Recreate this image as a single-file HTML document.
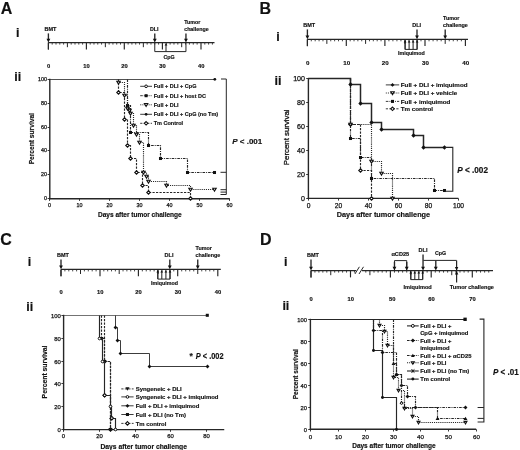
<!DOCTYPE html>
<html><head><meta charset="utf-8"><title>Figure</title>
<style>
html,body{margin:0;padding:0;background:#fff;}
svg{display:block;font-family:"Liberation Sans", sans-serif;will-change:transform;}
</style></head>
<body>
<svg width="520" height="450" viewBox="0 0 520 450">
<rect x="0" y="0" width="520" height="450" fill="#fff"/>
<text x="0.7" y="13.5" font-size="16" font-weight="bold" font-style="normal" text-anchor="start" fill="#111" stroke="#111" stroke-width="0.16" >A</text>
<text x="16.1" y="37" font-size="12.5" font-weight="bold" font-style="normal" text-anchor="start" fill="#111" stroke="#111" stroke-width="0.16" >i</text>
<text x="14.3" y="81.3" font-size="12.5" font-weight="bold" font-style="normal" text-anchor="start" fill="#111" stroke="#111" stroke-width="0.16" >ii</text>
<line x1="48.4" y1="42.6" x2="48.4" y2="49.4" stroke="#262626" stroke-width="1.15" stroke-linecap="butt"/>
<line x1="52.2" y1="42.6" x2="52.2" y2="44.6" stroke="#262626" stroke-width="0.85" stroke-linecap="butt"/>
<line x1="56" y1="42.6" x2="56" y2="44.6" stroke="#262626" stroke-width="0.85" stroke-linecap="butt"/>
<line x1="59.8" y1="42.6" x2="59.8" y2="44.6" stroke="#262626" stroke-width="0.85" stroke-linecap="butt"/>
<line x1="63.6" y1="42.6" x2="63.6" y2="44.6" stroke="#262626" stroke-width="0.85" stroke-linecap="butt"/>
<line x1="67.4" y1="42.6" x2="67.4" y2="47.2" stroke="#262626" stroke-width="1" stroke-linecap="butt"/>
<line x1="71.2" y1="42.6" x2="71.2" y2="44.6" stroke="#262626" stroke-width="0.85" stroke-linecap="butt"/>
<line x1="75" y1="42.6" x2="75" y2="44.6" stroke="#262626" stroke-width="0.85" stroke-linecap="butt"/>
<line x1="78.8" y1="42.6" x2="78.8" y2="44.6" stroke="#262626" stroke-width="0.85" stroke-linecap="butt"/>
<line x1="82.6" y1="42.6" x2="82.6" y2="44.6" stroke="#262626" stroke-width="0.85" stroke-linecap="butt"/>
<line x1="86.4" y1="42.6" x2="86.4" y2="49.4" stroke="#262626" stroke-width="1.15" stroke-linecap="butt"/>
<line x1="90.19" y1="42.6" x2="90.19" y2="44.6" stroke="#262626" stroke-width="0.85" stroke-linecap="butt"/>
<line x1="93.98" y1="42.6" x2="93.98" y2="44.6" stroke="#262626" stroke-width="0.85" stroke-linecap="butt"/>
<line x1="97.77" y1="42.6" x2="97.77" y2="44.6" stroke="#262626" stroke-width="0.85" stroke-linecap="butt"/>
<line x1="101.56" y1="42.6" x2="101.56" y2="44.6" stroke="#262626" stroke-width="0.85" stroke-linecap="butt"/>
<line x1="105.35" y1="42.6" x2="105.35" y2="47.2" stroke="#262626" stroke-width="1" stroke-linecap="butt"/>
<line x1="109.14" y1="42.6" x2="109.14" y2="44.6" stroke="#262626" stroke-width="0.85" stroke-linecap="butt"/>
<line x1="112.93" y1="42.6" x2="112.93" y2="44.6" stroke="#262626" stroke-width="0.85" stroke-linecap="butt"/>
<line x1="116.72" y1="42.6" x2="116.72" y2="44.6" stroke="#262626" stroke-width="0.85" stroke-linecap="butt"/>
<line x1="120.51" y1="42.6" x2="120.51" y2="44.6" stroke="#262626" stroke-width="0.85" stroke-linecap="butt"/>
<line x1="124.3" y1="42.6" x2="124.3" y2="49.4" stroke="#262626" stroke-width="1.15" stroke-linecap="butt"/>
<line x1="128.11" y1="42.6" x2="128.11" y2="44.6" stroke="#262626" stroke-width="0.85" stroke-linecap="butt"/>
<line x1="131.92" y1="42.6" x2="131.92" y2="44.6" stroke="#262626" stroke-width="0.85" stroke-linecap="butt"/>
<line x1="135.73" y1="42.6" x2="135.73" y2="44.6" stroke="#262626" stroke-width="0.85" stroke-linecap="butt"/>
<line x1="139.54" y1="42.6" x2="139.54" y2="44.6" stroke="#262626" stroke-width="0.85" stroke-linecap="butt"/>
<line x1="143.35" y1="42.6" x2="143.35" y2="47.2" stroke="#262626" stroke-width="1" stroke-linecap="butt"/>
<line x1="147.16" y1="42.6" x2="147.16" y2="44.6" stroke="#262626" stroke-width="0.85" stroke-linecap="butt"/>
<line x1="150.97" y1="42.6" x2="150.97" y2="44.6" stroke="#262626" stroke-width="0.85" stroke-linecap="butt"/>
<line x1="154.78" y1="42.6" x2="154.78" y2="44.6" stroke="#262626" stroke-width="0.85" stroke-linecap="butt"/>
<line x1="158.59" y1="42.6" x2="158.59" y2="44.6" stroke="#262626" stroke-width="0.85" stroke-linecap="butt"/>
<line x1="162.4" y1="42.6" x2="162.4" y2="49.4" stroke="#262626" stroke-width="1.15" stroke-linecap="butt"/>
<line x1="166.26" y1="42.6" x2="166.26" y2="44.6" stroke="#262626" stroke-width="0.85" stroke-linecap="butt"/>
<line x1="170.12" y1="42.6" x2="170.12" y2="44.6" stroke="#262626" stroke-width="0.85" stroke-linecap="butt"/>
<line x1="173.98" y1="42.6" x2="173.98" y2="44.6" stroke="#262626" stroke-width="0.85" stroke-linecap="butt"/>
<line x1="177.84" y1="42.6" x2="177.84" y2="44.6" stroke="#262626" stroke-width="0.85" stroke-linecap="butt"/>
<line x1="181.7" y1="42.6" x2="181.7" y2="47.2" stroke="#262626" stroke-width="1" stroke-linecap="butt"/>
<line x1="185.56" y1="42.6" x2="185.56" y2="44.6" stroke="#262626" stroke-width="0.85" stroke-linecap="butt"/>
<line x1="189.42" y1="42.6" x2="189.42" y2="44.6" stroke="#262626" stroke-width="0.85" stroke-linecap="butt"/>
<line x1="193.28" y1="42.6" x2="193.28" y2="44.6" stroke="#262626" stroke-width="0.85" stroke-linecap="butt"/>
<line x1="197.14" y1="42.6" x2="197.14" y2="44.6" stroke="#262626" stroke-width="0.85" stroke-linecap="butt"/>
<line x1="201" y1="42.6" x2="201" y2="49.4" stroke="#262626" stroke-width="1.15" stroke-linecap="butt"/>
<line x1="204.8" y1="42.6" x2="204.8" y2="44.6" stroke="#262626" stroke-width="0.85" stroke-linecap="butt"/>
<line x1="208.6" y1="42.6" x2="208.6" y2="44.6" stroke="#262626" stroke-width="0.85" stroke-linecap="butt"/>
<line x1="212.4" y1="42.6" x2="212.4" y2="44.6" stroke="#262626" stroke-width="0.85" stroke-linecap="butt"/>
<line x1="48.4" y1="42.6" x2="214.5" y2="42.6" stroke="#262626" stroke-width="1.25" stroke-linecap="butt"/>
<line x1="48.4" y1="33.4" x2="48.4" y2="39.3" stroke="#262626" stroke-width="1.35" stroke-linecap="butt"/>
<path d="M46.5,38.8 L50.3,38.8 L48.4,42.4 Z" fill="#111"/>
<line x1="48.4" y1="42.6" x2="48.4" y2="49.4" stroke="#262626" stroke-width="1.1" stroke-linecap="butt"/>
<line x1="154.78" y1="33.4" x2="154.78" y2="39.3" stroke="#262626" stroke-width="1.35" stroke-linecap="butt"/>
<path d="M152.88,38.8 L156.68,38.8 L154.78,42.4 Z" fill="#111"/>
<line x1="185.95" y1="33.4" x2="185.95" y2="39.3" stroke="#262626" stroke-width="1.35" stroke-linecap="butt"/>
<path d="M184.05,38.8 L187.85,38.8 L185.95,42.4 Z" fill="#111"/>
<text x="50.4" y="31" font-size="5.5" font-weight="bold" font-style="normal" text-anchor="middle" fill="#111" stroke="#111" stroke-width="0.16" >BMT</text>
<text x="154.18" y="31" font-size="5.3" font-weight="bold" font-style="normal" text-anchor="middle" fill="#111" stroke="#111" stroke-width="0.16" >DLI</text>
<text x="184.2" y="24.2" font-size="5.3" font-weight="bold" font-style="normal" text-anchor="start" fill="#111" stroke="#111" stroke-width="0.16" >Tumor</text>
<text x="184.2" y="31" font-size="5.3" font-weight="bold" font-style="normal" text-anchor="start" fill="#111" stroke="#111" stroke-width="0.16" >challenge</text>
<polyline points="154.78,42.6 154.78,51.6 185.95,51.6 185.95,42.6" fill="none" stroke="#262626" stroke-width="1"/>
<line x1="166" y1="51.6" x2="166" y2="45.1" stroke="#262626" stroke-width="1.05" stroke-linecap="butt"/>
<path d="M164.65,45.6 L167.35,45.6 L166,43 Z" fill="#111"/>
<text x="163.4" y="59.2" font-size="5.3" font-weight="bold" font-style="normal" text-anchor="start" fill="#111" stroke="#111" stroke-width="0.16" >CpG</text>
<text x="48.6" y="68" font-size="5.8" font-weight="bold" font-style="normal" text-anchor="middle" fill="#111" stroke="#111" stroke-width="0.16" >0</text>
<text x="86.6" y="68" font-size="5.8" font-weight="bold" font-style="normal" text-anchor="middle" fill="#111" stroke="#111" stroke-width="0.16" >10</text>
<text x="124.5" y="68" font-size="5.8" font-weight="bold" font-style="normal" text-anchor="middle" fill="#111" stroke="#111" stroke-width="0.16" >20</text>
<text x="162.6" y="68" font-size="5.8" font-weight="bold" font-style="normal" text-anchor="middle" fill="#111" stroke="#111" stroke-width="0.16" >30</text>
<text x="201.2" y="68" font-size="5.8" font-weight="bold" font-style="normal" text-anchor="middle" fill="#111" stroke="#111" stroke-width="0.16" >40</text>
<line x1="49.8" y1="78.8" x2="49.8" y2="199.3" stroke="#262626" stroke-width="1.4" stroke-linecap="butt"/>
<line x1="47.6" y1="198.5" x2="49.8" y2="198.5" stroke="#262626" stroke-width="0.9" stroke-linecap="butt"/>
<text x="47" y="200.44" font-size="5.4" font-weight="normal" font-style="normal" text-anchor="end" fill="#111" stroke="#111" stroke-width="0.25" >0</text>
<line x1="47.6" y1="174.5" x2="49.8" y2="174.5" stroke="#262626" stroke-width="0.9" stroke-linecap="butt"/>
<text x="47" y="176.44" font-size="5.4" font-weight="normal" font-style="normal" text-anchor="end" fill="#111" stroke="#111" stroke-width="0.25" >20</text>
<line x1="47.6" y1="150.5" x2="49.8" y2="150.5" stroke="#262626" stroke-width="0.9" stroke-linecap="butt"/>
<text x="47" y="152.44" font-size="5.4" font-weight="normal" font-style="normal" text-anchor="end" fill="#111" stroke="#111" stroke-width="0.25" >40</text>
<line x1="47.6" y1="127.5" x2="49.8" y2="127.5" stroke="#262626" stroke-width="0.9" stroke-linecap="butt"/>
<text x="47" y="129.44" font-size="5.4" font-weight="normal" font-style="normal" text-anchor="end" fill="#111" stroke="#111" stroke-width="0.25" >60</text>
<line x1="47.6" y1="103.5" x2="49.8" y2="103.5" stroke="#262626" stroke-width="0.9" stroke-linecap="butt"/>
<text x="47" y="105.44" font-size="5.4" font-weight="normal" font-style="normal" text-anchor="end" fill="#111" stroke="#111" stroke-width="0.25" >80</text>
<line x1="47.6" y1="79.5" x2="49.8" y2="79.5" stroke="#262626" stroke-width="0.9" stroke-linecap="butt"/>
<text x="47" y="81.44" font-size="5.4" font-weight="normal" font-style="normal" text-anchor="end" fill="#111" stroke="#111" stroke-width="0.25" >100</text>
<line x1="49.2" y1="198.7" x2="229.8" y2="198.7" stroke="#262626" stroke-width="1.4" stroke-linecap="butt"/>
<line x1="49.5" y1="198.7" x2="49.5" y2="200.9" stroke="#262626" stroke-width="0.9" stroke-linecap="butt"/>
<text x="49.5" y="207.1" font-size="5.4" font-weight="normal" font-style="normal" text-anchor="middle" fill="#111" stroke="#111" stroke-width="0.25" >0</text>
<line x1="79.5" y1="198.7" x2="79.5" y2="200.9" stroke="#262626" stroke-width="0.9" stroke-linecap="butt"/>
<text x="79.5" y="207.1" font-size="5.4" font-weight="normal" font-style="normal" text-anchor="middle" fill="#111" stroke="#111" stroke-width="0.25" >10</text>
<line x1="109.5" y1="198.7" x2="109.5" y2="200.9" stroke="#262626" stroke-width="0.9" stroke-linecap="butt"/>
<text x="109.5" y="207.1" font-size="5.4" font-weight="normal" font-style="normal" text-anchor="middle" fill="#111" stroke="#111" stroke-width="0.25" >20</text>
<line x1="139.5" y1="198.7" x2="139.5" y2="200.9" stroke="#262626" stroke-width="0.9" stroke-linecap="butt"/>
<text x="139.5" y="207.1" font-size="5.4" font-weight="normal" font-style="normal" text-anchor="middle" fill="#111" stroke="#111" stroke-width="0.25" >30</text>
<line x1="169.5" y1="198.7" x2="169.5" y2="200.9" stroke="#262626" stroke-width="0.9" stroke-linecap="butt"/>
<text x="169.5" y="207.1" font-size="5.4" font-weight="normal" font-style="normal" text-anchor="middle" fill="#111" stroke="#111" stroke-width="0.25" >40</text>
<line x1="199.5" y1="198.7" x2="199.5" y2="200.9" stroke="#262626" stroke-width="0.9" stroke-linecap="butt"/>
<text x="199.5" y="207.1" font-size="5.4" font-weight="normal" font-style="normal" text-anchor="middle" fill="#111" stroke="#111" stroke-width="0.25" >50</text>
<line x1="229.5" y1="198.7" x2="229.5" y2="200.9" stroke="#262626" stroke-width="0.9" stroke-linecap="butt"/>
<text x="229.5" y="207.1" font-size="5.4" font-weight="normal" font-style="normal" text-anchor="middle" fill="#111" stroke="#111" stroke-width="0.25" >60</text>
<text x="0" y="0" font-size="6.65" font-weight="bold" text-anchor="middle" fill="#111" stroke="#111" stroke-width="0.16" transform="translate(33.79,138.7) rotate(-90)">Percent survival</text>
<text x="98" y="216.7" font-size="6.52" font-weight="bold" font-style="normal" text-anchor="start" fill="#111" stroke="#111" stroke-width="0.16" >Days after tumor challenge</text>
<polyline points="49.5,79.5 214.5,79.5" fill="none" stroke="#262626" stroke-width="0.8"/>
<circle cx="214.8" cy="79.3" r="1.41" fill="#111"/>
<polyline points="118.5,79.5 118.5,79.5 118.5,92.5 124.5,92.5 124.5,119.5 127.5,119.5 127.5,145.5 130.5,145.5 130.5,158.5 136.5,158.5 136.5,172.5 142.5,172.5 142.5,185.5 148.5,185.5 148.5,192.5 190.5,192.5 190.5,198.5" fill="none" stroke="#262626" stroke-width="1.15" stroke-dasharray="2.2,1.3"/>
<path d="M118.5,90.75 L120.25,92.5 L118.5,94.25 L116.75,92.5 Z" fill="#fff" stroke="#111" stroke-width="1.1"/>
<path d="M124.5,117.75 L126.25,119.5 L124.5,121.25 L122.75,119.5 Z" fill="#fff" stroke="#111" stroke-width="1.1"/>
<path d="M127.5,143.75 L129.25,145.5 L127.5,147.25 L125.75,145.5 Z" fill="#fff" stroke="#111" stroke-width="1.1"/>
<path d="M130.5,156.75 L132.25,158.5 L130.5,160.25 L128.75,158.5 Z" fill="#fff" stroke="#111" stroke-width="1.1"/>
<path d="M136.5,170.75 L138.25,172.5 L136.5,174.25 L134.75,172.5 Z" fill="#fff" stroke="#111" stroke-width="1.1"/>
<path d="M142.5,183.75 L144.25,185.5 L142.5,187.25 L140.75,185.5 Z" fill="#fff" stroke="#111" stroke-width="1.1"/>
<path d="M148.5,190.75 L150.25,192.5 L148.5,194.25 L146.75,192.5 Z" fill="#fff" stroke="#111" stroke-width="1.1"/>
<path d="M190.5,196.75 L192.25,198.5 L190.5,200.25 L188.75,198.5 Z" fill="#fff" stroke="#111" stroke-width="1.1"/>
<polyline points="127.5,79.5 127.5,79.5 127.5,105.5 130.5,105.5 130.5,132.5 148.5,132.5 148.5,145.5 160.5,145.5 160.5,158.5 187.5,158.5 187.5,172.5 214.5,172.5" fill="none" stroke="#262626" stroke-width="1.15" stroke-dasharray="2.6,1.0,1.0,1.0"/>
<rect x="125.98" y="103.98" width="3.04" height="3.04" fill="#111"/>
<rect x="128.98" y="130.98" width="3.04" height="3.04" fill="#111"/>
<rect x="146.98" y="143.98" width="3.04" height="3.04" fill="#111"/>
<rect x="158.98" y="156.98" width="3.04" height="3.04" fill="#111"/>
<rect x="185.98" y="170.98" width="3.04" height="3.04" fill="#111"/>
<rect x="212.98" y="170.98" width="3.04" height="3.04" fill="#111"/>
<polyline points="118.5,79.5 118.5,79.5 118.5,82.5 124.5,82.5 124.5,95.5 127.5,95.5 127.5,108.5 129.5,108.5 129.5,110.5 130.5,110.5 130.5,113.5 133.5,113.5 133.5,125.5 136.5,125.5 136.5,134.5 139.5,134.5 139.5,142.5 143.5,142.5 143.5,172.5 146.5,172.5 146.5,176.5 148.5,176.5 148.5,181.5 166.5,181.5 166.5,185.5 190.5,185.5 190.5,189.5 214.5,189.5" fill="none" stroke="#262626" stroke-width="1.15" stroke-dasharray="1.1,1.0"/>
<path d="M116.78,81.21 L120.22,81.21 L118.5,84.13 Z" fill="#fff" stroke="#111" stroke-width="1.1"/>
<path d="M122.78,94.21 L126.22,94.21 L124.5,97.13 Z" fill="#fff" stroke="#111" stroke-width="1.1"/>
<path d="M125.78,107.21 L129.22,107.21 L127.5,110.13 Z" fill="#fff" stroke="#111" stroke-width="1.1"/>
<path d="M127.78,109.21 L131.22,109.21 L129.5,112.13 Z" fill="#fff" stroke="#111" stroke-width="1.1"/>
<path d="M128.78,112.21 L132.22,112.21 L130.5,115.13 Z" fill="#fff" stroke="#111" stroke-width="1.1"/>
<path d="M131.78,124.21 L135.22,124.21 L133.5,127.13 Z" fill="#fff" stroke="#111" stroke-width="1.1"/>
<path d="M134.78,133.21 L138.22,133.21 L136.5,136.13 Z" fill="#fff" stroke="#111" stroke-width="1.1"/>
<path d="M137.78,141.21 L141.22,141.21 L139.5,144.13 Z" fill="#fff" stroke="#111" stroke-width="1.1"/>
<path d="M141.78,171.21 L145.22,171.21 L143.5,174.13 Z" fill="#fff" stroke="#111" stroke-width="1.1"/>
<path d="M144.78,175.21 L148.22,175.21 L146.5,178.13 Z" fill="#fff" stroke="#111" stroke-width="1.1"/>
<path d="M146.78,180.21 L150.22,180.21 L148.5,183.13 Z" fill="#fff" stroke="#111" stroke-width="1.1"/>
<path d="M164.78,184.21 L168.22,184.21 L166.5,187.13 Z" fill="#fff" stroke="#111" stroke-width="1.1"/>
<path d="M188.78,188.21 L192.22,188.21 L190.5,191.13 Z" fill="#fff" stroke="#111" stroke-width="1.1"/>
<path d="M212.78,188.21 L216.22,188.21 L214.5,191.13 Z" fill="#fff" stroke="#111" stroke-width="1.1"/>
<polyline points="221,79 226.3,79 226.3,194.5 220.5,194.5" fill="none" stroke="#262626" stroke-width="1"/>
<line x1="220.5" y1="172.3" x2="226.3" y2="172.3" stroke="#262626" stroke-width="1" stroke-linecap="butt"/>
<line x1="220.5" y1="189.7" x2="226.3" y2="189.7" stroke="#262626" stroke-width="1" stroke-linecap="butt"/>
<line x1="220.5" y1="192.1" x2="226.3" y2="192.1" stroke="#262626" stroke-width="1" stroke-linecap="butt"/>
<text x="0" y="0" font-size="8" fill="#111" stroke="#111" stroke-width="0.16" transform="translate(232.2,144.38) scale(1.0,1)"><tspan font-weight="bold" font-style="italic">P</tspan><tspan font-weight="bold"> &lt; .001</tspan></text>
<line x1="140.2" y1="86.3" x2="152" y2="86.3" stroke="#262626" stroke-width="0.9" stroke-linecap="butt"/>
<circle cx="146.1" cy="86.3" r="1.33" fill="#fff" stroke="#111" stroke-width="1.0"/>
<text x="153.7" y="88.28" font-size="5.5" font-weight="bold" font-style="normal" text-anchor="start" fill="#111" stroke="#111" stroke-width="0.16" >Full + DLI + CpG</text>
<line x1="140.2" y1="95.7" x2="152" y2="95.7" stroke="#262626" stroke-width="0.9" stroke-linecap="butt" stroke-dasharray="2.6,1.0,1.0,1.0"/>
<rect x="144.58" y="94.18" width="3.04" height="3.04" fill="#111"/>
<text x="153.7" y="97.68" font-size="5.5" font-weight="bold" font-style="normal" text-anchor="start" fill="#111" stroke="#111" stroke-width="0.16" >Full + DLI + host DC</text>
<line x1="140.2" y1="104.8" x2="152" y2="104.8" stroke="#262626" stroke-width="0.9" stroke-linecap="butt" stroke-dasharray="1.1,1.0"/>
<path d="M144.38,103.51 L147.82,103.51 L146.1,106.43 Z" fill="#fff" stroke="#111" stroke-width="1.1"/>
<text x="153.7" y="106.78" font-size="5.5" font-weight="bold" font-style="normal" text-anchor="start" fill="#111" stroke="#111" stroke-width="0.16" >Full + DLI</text>
<line x1="140.2" y1="114.3" x2="152" y2="114.3" stroke="#262626" stroke-width="0.9" stroke-linecap="butt"/>
<circle cx="146.1" cy="114.3" r="1.36" fill="#111"/>
<text x="153.7" y="116.28" font-size="5.5" font-weight="bold" font-style="normal" text-anchor="start" fill="#111" stroke="#111" stroke-width="0.16" >Full + DLI + CpG (no Tm)</text>
<line x1="140.2" y1="123.3" x2="152" y2="123.3" stroke="#262626" stroke-width="0.9" stroke-linecap="butt" stroke-dasharray="2.2,1.3"/>
<path d="M146.1,121.55 L147.85,123.3 L146.1,125.05 L144.34,123.3 Z" fill="#fff" stroke="#111" stroke-width="1.1"/>
<text x="153.7" y="125.28" font-size="5.5" font-weight="bold" font-style="normal" text-anchor="start" fill="#111" stroke="#111" stroke-width="0.16" >Tm Control</text>
<text x="259.6" y="13.5" font-size="16" font-weight="bold" font-style="normal" text-anchor="start" fill="#111" stroke="#111" stroke-width="0.16" >B</text>
<text x="276.3" y="40.5" font-size="12.5" font-weight="bold" font-style="normal" text-anchor="start" fill="#111" stroke="#111" stroke-width="0.16" >i</text>
<text x="274.6" y="85" font-size="12.5" font-weight="bold" font-style="normal" text-anchor="start" fill="#111" stroke="#111" stroke-width="0.16" >ii</text>
<line x1="307.4" y1="39.3" x2="307.4" y2="46.1" stroke="#262626" stroke-width="1.15" stroke-linecap="butt"/>
<line x1="311.29" y1="39.3" x2="311.29" y2="41.3" stroke="#262626" stroke-width="0.85" stroke-linecap="butt"/>
<line x1="315.18" y1="39.3" x2="315.18" y2="41.3" stroke="#262626" stroke-width="0.85" stroke-linecap="butt"/>
<line x1="319.07" y1="39.3" x2="319.07" y2="41.3" stroke="#262626" stroke-width="0.85" stroke-linecap="butt"/>
<line x1="322.96" y1="39.3" x2="322.96" y2="41.3" stroke="#262626" stroke-width="0.85" stroke-linecap="butt"/>
<line x1="326.85" y1="39.3" x2="326.85" y2="43.9" stroke="#262626" stroke-width="1" stroke-linecap="butt"/>
<line x1="330.74" y1="39.3" x2="330.74" y2="41.3" stroke="#262626" stroke-width="0.85" stroke-linecap="butt"/>
<line x1="334.63" y1="39.3" x2="334.63" y2="41.3" stroke="#262626" stroke-width="0.85" stroke-linecap="butt"/>
<line x1="338.52" y1="39.3" x2="338.52" y2="41.3" stroke="#262626" stroke-width="0.85" stroke-linecap="butt"/>
<line x1="342.41" y1="39.3" x2="342.41" y2="41.3" stroke="#262626" stroke-width="0.85" stroke-linecap="butt"/>
<line x1="346.3" y1="39.3" x2="346.3" y2="46.1" stroke="#262626" stroke-width="1.15" stroke-linecap="butt"/>
<line x1="350.16" y1="39.3" x2="350.16" y2="41.3" stroke="#262626" stroke-width="0.85" stroke-linecap="butt"/>
<line x1="354.02" y1="39.3" x2="354.02" y2="41.3" stroke="#262626" stroke-width="0.85" stroke-linecap="butt"/>
<line x1="357.88" y1="39.3" x2="357.88" y2="41.3" stroke="#262626" stroke-width="0.85" stroke-linecap="butt"/>
<line x1="361.74" y1="39.3" x2="361.74" y2="41.3" stroke="#262626" stroke-width="0.85" stroke-linecap="butt"/>
<line x1="365.6" y1="39.3" x2="365.6" y2="43.9" stroke="#262626" stroke-width="1" stroke-linecap="butt"/>
<line x1="369.46" y1="39.3" x2="369.46" y2="41.3" stroke="#262626" stroke-width="0.85" stroke-linecap="butt"/>
<line x1="373.32" y1="39.3" x2="373.32" y2="41.3" stroke="#262626" stroke-width="0.85" stroke-linecap="butt"/>
<line x1="377.18" y1="39.3" x2="377.18" y2="41.3" stroke="#262626" stroke-width="0.85" stroke-linecap="butt"/>
<line x1="381.04" y1="39.3" x2="381.04" y2="41.3" stroke="#262626" stroke-width="0.85" stroke-linecap="butt"/>
<line x1="384.9" y1="39.3" x2="384.9" y2="46.1" stroke="#262626" stroke-width="1.15" stroke-linecap="butt"/>
<line x1="388.91" y1="39.3" x2="388.91" y2="41.3" stroke="#262626" stroke-width="0.85" stroke-linecap="butt"/>
<line x1="392.92" y1="39.3" x2="392.92" y2="41.3" stroke="#262626" stroke-width="0.85" stroke-linecap="butt"/>
<line x1="396.93" y1="39.3" x2="396.93" y2="41.3" stroke="#262626" stroke-width="0.85" stroke-linecap="butt"/>
<line x1="400.94" y1="39.3" x2="400.94" y2="41.3" stroke="#262626" stroke-width="0.85" stroke-linecap="butt"/>
<line x1="404.95" y1="39.3" x2="404.95" y2="43.9" stroke="#262626" stroke-width="1" stroke-linecap="butt"/>
<line x1="408.96" y1="39.3" x2="408.96" y2="41.3" stroke="#262626" stroke-width="0.85" stroke-linecap="butt"/>
<line x1="412.97" y1="39.3" x2="412.97" y2="41.3" stroke="#262626" stroke-width="0.85" stroke-linecap="butt"/>
<line x1="416.98" y1="39.3" x2="416.98" y2="41.3" stroke="#262626" stroke-width="0.85" stroke-linecap="butt"/>
<line x1="420.99" y1="39.3" x2="420.99" y2="41.3" stroke="#262626" stroke-width="0.85" stroke-linecap="butt"/>
<line x1="425" y1="39.3" x2="425" y2="46.1" stroke="#262626" stroke-width="1.15" stroke-linecap="butt"/>
<line x1="429.04" y1="39.3" x2="429.04" y2="41.3" stroke="#262626" stroke-width="0.85" stroke-linecap="butt"/>
<line x1="433.08" y1="39.3" x2="433.08" y2="41.3" stroke="#262626" stroke-width="0.85" stroke-linecap="butt"/>
<line x1="437.12" y1="39.3" x2="437.12" y2="41.3" stroke="#262626" stroke-width="0.85" stroke-linecap="butt"/>
<line x1="441.16" y1="39.3" x2="441.16" y2="41.3" stroke="#262626" stroke-width="0.85" stroke-linecap="butt"/>
<line x1="445.2" y1="39.3" x2="445.2" y2="43.9" stroke="#262626" stroke-width="1" stroke-linecap="butt"/>
<line x1="449.24" y1="39.3" x2="449.24" y2="41.3" stroke="#262626" stroke-width="0.85" stroke-linecap="butt"/>
<line x1="453.28" y1="39.3" x2="453.28" y2="41.3" stroke="#262626" stroke-width="0.85" stroke-linecap="butt"/>
<line x1="457.32" y1="39.3" x2="457.32" y2="41.3" stroke="#262626" stroke-width="0.85" stroke-linecap="butt"/>
<line x1="461.36" y1="39.3" x2="461.36" y2="41.3" stroke="#262626" stroke-width="0.85" stroke-linecap="butt"/>
<line x1="465.4" y1="39.3" x2="465.4" y2="46.1" stroke="#262626" stroke-width="1.15" stroke-linecap="butt"/>
<line x1="307.4" y1="39.3" x2="468" y2="39.3" stroke="#262626" stroke-width="1.25" stroke-linecap="butt"/>
<line x1="307.4" y1="29.4" x2="307.4" y2="36.1" stroke="#262626" stroke-width="1.35" stroke-linecap="butt"/>
<path d="M305.5,35.6 L309.3,35.6 L307.4,39.2 Z" fill="#111"/>
<line x1="307.4" y1="39.4" x2="307.4" y2="46.2" stroke="#262626" stroke-width="1.1" stroke-linecap="butt"/>
<line x1="417" y1="29.4" x2="417" y2="36.1" stroke="#262626" stroke-width="1.35" stroke-linecap="butt"/>
<path d="M415.1,35.6 L418.9,35.6 L417,39.2 Z" fill="#111"/>
<line x1="445.2" y1="29.4" x2="445.2" y2="36.1" stroke="#262626" stroke-width="1.35" stroke-linecap="butt"/>
<path d="M443.3,35.6 L447.1,35.6 L445.2,39.2 Z" fill="#111"/>
<text x="309.2" y="27" font-size="5.5" font-weight="bold" font-style="normal" text-anchor="middle" fill="#111" stroke="#111" stroke-width="0.16" >BMT</text>
<text x="416.6" y="27" font-size="5.5" font-weight="bold" font-style="normal" text-anchor="middle" fill="#111" stroke="#111" stroke-width="0.16" >DLI</text>
<text x="443" y="20.2" font-size="5.4" font-weight="bold" font-style="normal" text-anchor="start" fill="#111" stroke="#111" stroke-width="0.16" >Tumor</text>
<text x="443" y="27" font-size="5.4" font-weight="bold" font-style="normal" text-anchor="start" fill="#111" stroke="#111" stroke-width="0.16" >challenge</text>
<polyline points="405.1,39.4 405.1,49.4 417.1,49.4 417.1,39.4" fill="none" stroke="#262626" stroke-width="1"/>
<line x1="405.1" y1="49.4" x2="405.1" y2="42.1" stroke="#262626" stroke-width="1.05" stroke-linecap="butt"/>
<path d="M403.75,42.6 L406.45,42.6 L405.1,40 Z" fill="#111"/>
<line x1="409.1" y1="49.4" x2="409.1" y2="42.1" stroke="#262626" stroke-width="1.05" stroke-linecap="butt"/>
<path d="M407.75,42.6 L410.45,42.6 L409.1,40 Z" fill="#111"/>
<line x1="413.1" y1="49.4" x2="413.1" y2="42.1" stroke="#262626" stroke-width="1.05" stroke-linecap="butt"/>
<path d="M411.75,42.6 L414.45,42.6 L413.1,40 Z" fill="#111"/>
<line x1="417.1" y1="49.4" x2="417.1" y2="42.1" stroke="#262626" stroke-width="1.05" stroke-linecap="butt"/>
<path d="M415.75,42.6 L418.45,42.6 L417.1,40 Z" fill="#111"/>
<text x="398" y="55.4" font-size="5.3" font-weight="bold" font-style="normal" text-anchor="start" fill="#111" stroke="#111" stroke-width="0.16" >Imiquimod</text>
<text x="307.8" y="65.1" font-size="6.2" font-weight="bold" font-style="normal" text-anchor="middle" fill="#111" stroke="#111" stroke-width="0.16" >0</text>
<text x="346.7" y="65.1" font-size="6.2" font-weight="bold" font-style="normal" text-anchor="middle" fill="#111" stroke="#111" stroke-width="0.16" >10</text>
<text x="385.3" y="65.1" font-size="6.2" font-weight="bold" font-style="normal" text-anchor="middle" fill="#111" stroke="#111" stroke-width="0.16" >20</text>
<text x="425.4" y="65.1" font-size="6.2" font-weight="bold" font-style="normal" text-anchor="middle" fill="#111" stroke="#111" stroke-width="0.16" >30</text>
<text x="465.8" y="65.1" font-size="6.2" font-weight="bold" font-style="normal" text-anchor="middle" fill="#111" stroke="#111" stroke-width="0.16" >40</text>
<line x1="308.4" y1="77.9" x2="308.4" y2="199" stroke="#262626" stroke-width="1.4" stroke-linecap="butt"/>
<line x1="306.2" y1="198.5" x2="308.4" y2="198.5" stroke="#262626" stroke-width="0.9" stroke-linecap="butt"/>
<text x="305" y="201.06" font-size="7.1" font-weight="normal" font-style="normal" text-anchor="end" fill="#111" stroke="#111" stroke-width="0.25" >0</text>
<line x1="306.2" y1="174.5" x2="308.4" y2="174.5" stroke="#262626" stroke-width="0.9" stroke-linecap="butt"/>
<text x="305" y="177.06" font-size="7.1" font-weight="normal" font-style="normal" text-anchor="end" fill="#111" stroke="#111" stroke-width="0.25" >20</text>
<line x1="306.2" y1="150.5" x2="308.4" y2="150.5" stroke="#262626" stroke-width="0.9" stroke-linecap="butt"/>
<text x="305" y="153.06" font-size="7.1" font-weight="normal" font-style="normal" text-anchor="end" fill="#111" stroke="#111" stroke-width="0.25" >40</text>
<line x1="306.2" y1="126.5" x2="308.4" y2="126.5" stroke="#262626" stroke-width="0.9" stroke-linecap="butt"/>
<text x="305" y="129.06" font-size="7.1" font-weight="normal" font-style="normal" text-anchor="end" fill="#111" stroke="#111" stroke-width="0.25" >60</text>
<line x1="306.2" y1="102.5" x2="308.4" y2="102.5" stroke="#262626" stroke-width="0.9" stroke-linecap="butt"/>
<text x="305" y="105.06" font-size="7.1" font-weight="normal" font-style="normal" text-anchor="end" fill="#111" stroke="#111" stroke-width="0.25" >80</text>
<line x1="306.2" y1="78.5" x2="308.4" y2="78.5" stroke="#262626" stroke-width="0.9" stroke-linecap="butt"/>
<text x="305" y="81.06" font-size="7.1" font-weight="normal" font-style="normal" text-anchor="end" fill="#111" stroke="#111" stroke-width="0.25" >100</text>
<line x1="307.8" y1="198.4" x2="458.4" y2="198.4" stroke="#262626" stroke-width="1.4" stroke-linecap="butt"/>
<line x1="308.5" y1="198.4" x2="308.5" y2="200.6" stroke="#262626" stroke-width="0.9" stroke-linecap="butt"/>
<text x="308.5" y="208.4" font-size="6.7" font-weight="normal" font-style="normal" text-anchor="middle" fill="#111" stroke="#111" stroke-width="0.25" >0</text>
<line x1="338.5" y1="198.4" x2="338.5" y2="200.6" stroke="#262626" stroke-width="0.9" stroke-linecap="butt"/>
<text x="338.5" y="208.4" font-size="6.7" font-weight="normal" font-style="normal" text-anchor="middle" fill="#111" stroke="#111" stroke-width="0.25" >20</text>
<line x1="368.5" y1="198.4" x2="368.5" y2="200.6" stroke="#262626" stroke-width="0.9" stroke-linecap="butt"/>
<text x="368.5" y="208.4" font-size="6.7" font-weight="normal" font-style="normal" text-anchor="middle" fill="#111" stroke="#111" stroke-width="0.25" >40</text>
<line x1="398.5" y1="198.4" x2="398.5" y2="200.6" stroke="#262626" stroke-width="0.9" stroke-linecap="butt"/>
<text x="398.5" y="208.4" font-size="6.7" font-weight="normal" font-style="normal" text-anchor="middle" fill="#111" stroke="#111" stroke-width="0.25" >60</text>
<line x1="428.5" y1="198.4" x2="428.5" y2="200.6" stroke="#262626" stroke-width="0.9" stroke-linecap="butt"/>
<text x="428.5" y="208.4" font-size="6.7" font-weight="normal" font-style="normal" text-anchor="middle" fill="#111" stroke="#111" stroke-width="0.25" >80</text>
<line x1="458.5" y1="198.4" x2="458.5" y2="200.6" stroke="#262626" stroke-width="0.9" stroke-linecap="butt"/>
<text x="458.5" y="208.4" font-size="6.7" font-weight="normal" font-style="normal" text-anchor="middle" fill="#111" stroke="#111" stroke-width="0.25" >100</text>
<text x="0" y="0" font-size="7.85" font-weight="normal" text-anchor="middle" fill="#111" stroke="#111" stroke-width="0.3" transform="translate(288.93,137.3) rotate(-90)">Percent survival</text>
<text x="336.8" y="217.4" font-size="7.28" font-weight="bold" font-style="normal" text-anchor="start" fill="#111" stroke="#111" stroke-width="0.16" >Days after tumor challenge</text>
<polyline points="350.5,78.5 350.5,78.5 350.5,124.5 360.5,124.5 360.5,170.5 371.5,170.5 371.5,198.5" fill="none" stroke="#262626" stroke-width="1.15" stroke-dasharray="2.2,1.3"/>
<path d="M350.5,122.75 L352.25,124.5 L350.5,126.25 L348.75,124.5 Z" fill="#fff" stroke="#111" stroke-width="1.1"/>
<path d="M360.5,168.75 L362.25,170.5 L360.5,172.25 L358.75,170.5 Z" fill="#fff" stroke="#111" stroke-width="1.1"/>
<path d="M371.5,196.75 L373.25,198.5 L371.5,200.25 L369.75,198.5 Z" fill="#fff" stroke="#111" stroke-width="1.1"/>
<polyline points="350.5,78.5 350.5,78.5 350.5,138.5 360.5,138.5 360.5,157.5 371.5,157.5 371.5,178.5 434.5,178.5 434.5,190.5 444.5,190.5" fill="none" stroke="#262626" stroke-width="1.15" stroke-dasharray="2.6,1.0,1.0,1.0"/>
<rect x="348.98" y="136.98" width="3.04" height="3.04" fill="#111"/>
<rect x="358.98" y="155.98" width="3.04" height="3.04" fill="#111"/>
<rect x="369.98" y="176.98" width="3.04" height="3.04" fill="#111"/>
<rect x="432.98" y="188.98" width="3.04" height="3.04" fill="#111"/>
<rect x="442.98" y="188.98" width="3.04" height="3.04" fill="#111"/>
<polyline points="350.5,78.5 350.5,78.5 350.5,124.5 371.5,124.5 371.5,161.5 381.5,161.5 381.5,173.5 392.5,173.5 392.5,198.5" fill="none" stroke="#262626" stroke-width="1.15" stroke-dasharray="1.1,1.0"/>
<path d="M348.78,123.21 L352.22,123.21 L350.5,126.13 Z" fill="#fff" stroke="#111" stroke-width="1.1"/>
<path d="M369.78,160.21 L373.22,160.21 L371.5,163.13 Z" fill="#fff" stroke="#111" stroke-width="1.1"/>
<path d="M379.78,172.21 L383.22,172.21 L381.5,175.13 Z" fill="#fff" stroke="#111" stroke-width="1.1"/>
<path d="M390.78,197.21 L394.22,197.21 L392.5,200.13 Z" fill="#fff" stroke="#111" stroke-width="1.1"/>
<polyline points="308.5,78.5 350.5,78.5 350.5,84.5 360.5,84.5 360.5,103.5 371.5,103.5 371.5,122.5 381.5,122.5 381.5,129.5 413.5,129.5 413.5,135.5 423.5,135.5 423.5,147.5 444.5,147.5" fill="none" stroke="#262626" stroke-width="1.5"/>
<path d="M350.5,82.3 L352.7,84.5 L350.5,86.7 L348.3,84.5 Z" fill="#111"/>
<path d="M360.5,101.3 L362.7,103.5 L360.5,105.7 L358.3,103.5 Z" fill="#111"/>
<path d="M371.5,120.3 L373.7,122.5 L371.5,124.7 L369.3,122.5 Z" fill="#111"/>
<path d="M381.5,127.3 L383.7,129.5 L381.5,131.7 L379.3,129.5 Z" fill="#111"/>
<path d="M413.5,133.3 L415.7,135.5 L413.5,137.7 L411.3,135.5 Z" fill="#111"/>
<path d="M423.5,145.3 L425.7,147.5 L423.5,149.7 L421.3,147.5 Z" fill="#111"/>
<path d="M444.5,145.3 L446.7,147.5 L444.5,149.7 L442.3,147.5 Z" fill="#111"/>
<polyline points="444.9,147.4 452.8,147.4 452.8,191.2 444.9,191.2" fill="none" stroke="#262626" stroke-width="1.1"/>
<text x="0" y="0" font-size="8.2" fill="#111" stroke="#111" stroke-width="0.16" transform="translate(457.2,173.35) scale(1.0,1)"><tspan font-weight="bold" font-style="italic">P</tspan><tspan font-weight="bold"> &lt; .002</tspan></text>
<line x1="385.8" y1="84.9" x2="399.2" y2="84.9" stroke="#262626" stroke-width="0.9" stroke-linecap="butt"/>
<path d="M392.5,82.99 L394.41,84.9 L392.5,86.81 L390.59,84.9 Z" fill="#111"/>
<text x="400.8" y="87.14" font-size="6.22" font-weight="bold" font-style="normal" text-anchor="start" fill="#111" stroke="#111" stroke-width="0.16" >Full + DLI + imiquimod</text>
<line x1="385.8" y1="93" x2="399.2" y2="93" stroke="#262626" stroke-width="0.9" stroke-linecap="butt" stroke-dasharray="1.1,1.0"/>
<path d="M390.78,91.71 L394.22,91.71 L392.5,94.63 Z" fill="#fff" stroke="#111" stroke-width="1.1"/>
<text x="400.8" y="95.24" font-size="6.22" font-weight="bold" font-style="normal" text-anchor="start" fill="#111" stroke="#111" stroke-width="0.16" >Full + DLI + vehicle</text>
<line x1="385.8" y1="101.4" x2="399.2" y2="101.4" stroke="#262626" stroke-width="0.9" stroke-linecap="butt" stroke-dasharray="2.6,1.0,1.0,1.0"/>
<rect x="390.98" y="99.88" width="3.04" height="3.04" fill="#111"/>
<text x="400.8" y="103.64" font-size="6.22" font-weight="bold" font-style="normal" text-anchor="start" fill="#111" stroke="#111" stroke-width="0.16" >Full + imiquimod</text>
<line x1="385.8" y1="108.8" x2="399.2" y2="108.8" stroke="#262626" stroke-width="0.9" stroke-linecap="butt" stroke-dasharray="2.2,1.3"/>
<path d="M392.5,107.05 L394.25,108.8 L392.5,110.55 L390.75,108.8 Z" fill="#fff" stroke="#111" stroke-width="1.1"/>
<text x="400.8" y="111.04" font-size="6.22" font-weight="bold" font-style="normal" text-anchor="start" fill="#111" stroke="#111" stroke-width="0.16" >Tm control</text>
<text x="0.2" y="245" font-size="16" font-weight="bold" font-style="normal" text-anchor="start" fill="#111" stroke="#111" stroke-width="0.16" >C</text>
<text x="27.8" y="266.4" font-size="12.5" font-weight="bold" font-style="normal" text-anchor="start" fill="#111" stroke="#111" stroke-width="0.16" >i</text>
<text x="26.3" y="310.7" font-size="12.5" font-weight="bold" font-style="normal" text-anchor="start" fill="#111" stroke="#111" stroke-width="0.16" >ii</text>
<line x1="61" y1="269.4" x2="61" y2="276.2" stroke="#262626" stroke-width="1.15" stroke-linecap="butt"/>
<line x1="64.9" y1="269.4" x2="64.9" y2="271.4" stroke="#262626" stroke-width="0.85" stroke-linecap="butt"/>
<line x1="68.8" y1="269.4" x2="68.8" y2="271.4" stroke="#262626" stroke-width="0.85" stroke-linecap="butt"/>
<line x1="72.7" y1="269.4" x2="72.7" y2="271.4" stroke="#262626" stroke-width="0.85" stroke-linecap="butt"/>
<line x1="76.6" y1="269.4" x2="76.6" y2="271.4" stroke="#262626" stroke-width="0.85" stroke-linecap="butt"/>
<line x1="80.5" y1="269.4" x2="80.5" y2="274" stroke="#262626" stroke-width="1" stroke-linecap="butt"/>
<line x1="84.4" y1="269.4" x2="84.4" y2="271.4" stroke="#262626" stroke-width="0.85" stroke-linecap="butt"/>
<line x1="88.3" y1="269.4" x2="88.3" y2="271.4" stroke="#262626" stroke-width="0.85" stroke-linecap="butt"/>
<line x1="92.2" y1="269.4" x2="92.2" y2="271.4" stroke="#262626" stroke-width="0.85" stroke-linecap="butt"/>
<line x1="96.1" y1="269.4" x2="96.1" y2="271.4" stroke="#262626" stroke-width="0.85" stroke-linecap="butt"/>
<line x1="100" y1="269.4" x2="100" y2="276.2" stroke="#262626" stroke-width="1.15" stroke-linecap="butt"/>
<line x1="103.84" y1="269.4" x2="103.84" y2="271.4" stroke="#262626" stroke-width="0.85" stroke-linecap="butt"/>
<line x1="107.68" y1="269.4" x2="107.68" y2="271.4" stroke="#262626" stroke-width="0.85" stroke-linecap="butt"/>
<line x1="111.52" y1="269.4" x2="111.52" y2="271.4" stroke="#262626" stroke-width="0.85" stroke-linecap="butt"/>
<line x1="115.36" y1="269.4" x2="115.36" y2="271.4" stroke="#262626" stroke-width="0.85" stroke-linecap="butt"/>
<line x1="119.2" y1="269.4" x2="119.2" y2="274" stroke="#262626" stroke-width="1" stroke-linecap="butt"/>
<line x1="123.04" y1="269.4" x2="123.04" y2="271.4" stroke="#262626" stroke-width="0.85" stroke-linecap="butt"/>
<line x1="126.88" y1="269.4" x2="126.88" y2="271.4" stroke="#262626" stroke-width="0.85" stroke-linecap="butt"/>
<line x1="130.72" y1="269.4" x2="130.72" y2="271.4" stroke="#262626" stroke-width="0.85" stroke-linecap="butt"/>
<line x1="134.56" y1="269.4" x2="134.56" y2="271.4" stroke="#262626" stroke-width="0.85" stroke-linecap="butt"/>
<line x1="138.4" y1="269.4" x2="138.4" y2="276.2" stroke="#262626" stroke-width="1.15" stroke-linecap="butt"/>
<line x1="142.33" y1="269.4" x2="142.33" y2="271.4" stroke="#262626" stroke-width="0.85" stroke-linecap="butt"/>
<line x1="146.26" y1="269.4" x2="146.26" y2="271.4" stroke="#262626" stroke-width="0.85" stroke-linecap="butt"/>
<line x1="150.19" y1="269.4" x2="150.19" y2="271.4" stroke="#262626" stroke-width="0.85" stroke-linecap="butt"/>
<line x1="154.12" y1="269.4" x2="154.12" y2="271.4" stroke="#262626" stroke-width="0.85" stroke-linecap="butt"/>
<line x1="158.05" y1="269.4" x2="158.05" y2="274" stroke="#262626" stroke-width="1" stroke-linecap="butt"/>
<line x1="161.98" y1="269.4" x2="161.98" y2="271.4" stroke="#262626" stroke-width="0.85" stroke-linecap="butt"/>
<line x1="165.91" y1="269.4" x2="165.91" y2="271.4" stroke="#262626" stroke-width="0.85" stroke-linecap="butt"/>
<line x1="169.84" y1="269.4" x2="169.84" y2="271.4" stroke="#262626" stroke-width="0.85" stroke-linecap="butt"/>
<line x1="173.77" y1="269.4" x2="173.77" y2="271.4" stroke="#262626" stroke-width="0.85" stroke-linecap="butt"/>
<line x1="177.7" y1="269.4" x2="177.7" y2="276.2" stroke="#262626" stroke-width="1.15" stroke-linecap="butt"/>
<line x1="181.71" y1="269.4" x2="181.71" y2="271.4" stroke="#262626" stroke-width="0.85" stroke-linecap="butt"/>
<line x1="185.72" y1="269.4" x2="185.72" y2="271.4" stroke="#262626" stroke-width="0.85" stroke-linecap="butt"/>
<line x1="189.73" y1="269.4" x2="189.73" y2="271.4" stroke="#262626" stroke-width="0.85" stroke-linecap="butt"/>
<line x1="193.74" y1="269.4" x2="193.74" y2="271.4" stroke="#262626" stroke-width="0.85" stroke-linecap="butt"/>
<line x1="197.75" y1="269.4" x2="197.75" y2="274" stroke="#262626" stroke-width="1" stroke-linecap="butt"/>
<line x1="201.76" y1="269.4" x2="201.76" y2="271.4" stroke="#262626" stroke-width="0.85" stroke-linecap="butt"/>
<line x1="205.77" y1="269.4" x2="205.77" y2="271.4" stroke="#262626" stroke-width="0.85" stroke-linecap="butt"/>
<line x1="209.78" y1="269.4" x2="209.78" y2="271.4" stroke="#262626" stroke-width="0.85" stroke-linecap="butt"/>
<line x1="213.79" y1="269.4" x2="213.79" y2="271.4" stroke="#262626" stroke-width="0.85" stroke-linecap="butt"/>
<line x1="217.8" y1="269.4" x2="217.8" y2="276.2" stroke="#262626" stroke-width="1.15" stroke-linecap="butt"/>
<line x1="61" y1="269.4" x2="220.8" y2="269.4" stroke="#262626" stroke-width="1.25" stroke-linecap="butt"/>
<line x1="61" y1="259.4" x2="61" y2="266.1" stroke="#262626" stroke-width="1.35" stroke-linecap="butt"/>
<path d="M59.1,265.6 L62.9,265.6 L61,269.2 Z" fill="#111"/>
<line x1="61" y1="269.4" x2="61" y2="276.2" stroke="#262626" stroke-width="1.1" stroke-linecap="butt"/>
<line x1="169.8" y1="259.4" x2="169.8" y2="266.1" stroke="#262626" stroke-width="1.35" stroke-linecap="butt"/>
<path d="M167.9,265.6 L171.7,265.6 L169.8,269.2 Z" fill="#111"/>
<line x1="197.75" y1="259.4" x2="197.75" y2="266.1" stroke="#262626" stroke-width="1.35" stroke-linecap="butt"/>
<path d="M195.85,265.6 L199.65,265.6 L197.75,269.2 Z" fill="#111"/>
<text x="63" y="257" font-size="5.5" font-weight="bold" font-style="normal" text-anchor="middle" fill="#111" stroke="#111" stroke-width="0.16" >BMT</text>
<text x="169.04" y="257" font-size="5.5" font-weight="bold" font-style="normal" text-anchor="middle" fill="#111" stroke="#111" stroke-width="0.16" >DLI</text>
<text x="195.5" y="250.2" font-size="5.4" font-weight="bold" font-style="normal" text-anchor="start" fill="#111" stroke="#111" stroke-width="0.16" >Tumor</text>
<text x="195.5" y="257" font-size="5.4" font-weight="bold" font-style="normal" text-anchor="start" fill="#111" stroke="#111" stroke-width="0.16" >challenge</text>
<polyline points="157.8,269.4 157.8,279.1 170,279.1 170,269.4" fill="none" stroke="#262626" stroke-width="1"/>
<line x1="157.8" y1="279.1" x2="157.8" y2="272.1" stroke="#262626" stroke-width="1.05" stroke-linecap="butt"/>
<path d="M156.45,272.6 L159.15,272.6 L157.8,270 Z" fill="#111"/>
<line x1="161.8" y1="279.1" x2="161.8" y2="272.1" stroke="#262626" stroke-width="1.05" stroke-linecap="butt"/>
<path d="M160.45,272.6 L163.15,272.6 L161.8,270 Z" fill="#111"/>
<line x1="165.9" y1="279.1" x2="165.9" y2="272.1" stroke="#262626" stroke-width="1.05" stroke-linecap="butt"/>
<path d="M164.55,272.6 L167.25,272.6 L165.9,270 Z" fill="#111"/>
<line x1="170" y1="279.1" x2="170" y2="272.1" stroke="#262626" stroke-width="1.05" stroke-linecap="butt"/>
<path d="M168.65,272.6 L171.35,272.6 L170,270 Z" fill="#111"/>
<text x="151.1" y="285" font-size="5.3" font-weight="bold" font-style="normal" text-anchor="start" fill="#111" stroke="#111" stroke-width="0.16" >Imiquimod</text>
<text x="61.2" y="294" font-size="5.8" font-weight="bold" font-style="normal" text-anchor="middle" fill="#111" stroke="#111" stroke-width="0.16" >0</text>
<text x="100.2" y="294" font-size="5.8" font-weight="bold" font-style="normal" text-anchor="middle" fill="#111" stroke="#111" stroke-width="0.16" >10</text>
<text x="138.6" y="294" font-size="5.8" font-weight="bold" font-style="normal" text-anchor="middle" fill="#111" stroke="#111" stroke-width="0.16" >20</text>
<text x="177.9" y="294" font-size="5.8" font-weight="bold" font-style="normal" text-anchor="middle" fill="#111" stroke="#111" stroke-width="0.16" >30</text>
<text x="218" y="294" font-size="5.8" font-weight="bold" font-style="normal" text-anchor="middle" fill="#111" stroke="#111" stroke-width="0.16" >40</text>
<line x1="63.6" y1="314.8" x2="63.6" y2="430.2" stroke="#262626" stroke-width="1.4" stroke-linecap="butt"/>
<line x1="61.4" y1="429.5" x2="63.6" y2="429.5" stroke="#262626" stroke-width="0.9" stroke-linecap="butt"/>
<text x="60.8" y="431.62" font-size="5.9" font-weight="normal" font-style="normal" text-anchor="end" fill="#111" stroke="#111" stroke-width="0.25" >0</text>
<line x1="61.4" y1="406.5" x2="63.6" y2="406.5" stroke="#262626" stroke-width="0.9" stroke-linecap="butt"/>
<text x="60.8" y="408.62" font-size="5.9" font-weight="normal" font-style="normal" text-anchor="end" fill="#111" stroke="#111" stroke-width="0.25" >20</text>
<line x1="61.4" y1="383.5" x2="63.6" y2="383.5" stroke="#262626" stroke-width="0.9" stroke-linecap="butt"/>
<text x="60.8" y="385.62" font-size="5.9" font-weight="normal" font-style="normal" text-anchor="end" fill="#111" stroke="#111" stroke-width="0.25" >40</text>
<line x1="61.4" y1="361.5" x2="63.6" y2="361.5" stroke="#262626" stroke-width="0.9" stroke-linecap="butt"/>
<text x="60.8" y="363.62" font-size="5.9" font-weight="normal" font-style="normal" text-anchor="end" fill="#111" stroke="#111" stroke-width="0.25" >60</text>
<line x1="61.4" y1="338.5" x2="63.6" y2="338.5" stroke="#262626" stroke-width="0.9" stroke-linecap="butt"/>
<text x="60.8" y="340.62" font-size="5.9" font-weight="normal" font-style="normal" text-anchor="end" fill="#111" stroke="#111" stroke-width="0.25" >80</text>
<line x1="61.4" y1="315.5" x2="63.6" y2="315.5" stroke="#262626" stroke-width="0.9" stroke-linecap="butt"/>
<text x="60.8" y="317.62" font-size="5.9" font-weight="normal" font-style="normal" text-anchor="end" fill="#111" stroke="#111" stroke-width="0.25" >100</text>
<line x1="63" y1="429.6" x2="224.25" y2="429.6" stroke="#262626" stroke-width="1.4" stroke-linecap="butt"/>
<line x1="63.5" y1="429.6" x2="63.5" y2="431.8" stroke="#262626" stroke-width="0.9" stroke-linecap="butt"/>
<text x="63.5" y="438.4" font-size="5.9" font-weight="normal" font-style="normal" text-anchor="middle" fill="#111" stroke="#111" stroke-width="0.25" >0</text>
<line x1="99.5" y1="429.6" x2="99.5" y2="431.8" stroke="#262626" stroke-width="0.9" stroke-linecap="butt"/>
<text x="99.5" y="438.4" font-size="5.9" font-weight="normal" font-style="normal" text-anchor="middle" fill="#111" stroke="#111" stroke-width="0.25" >20</text>
<line x1="135.5" y1="429.6" x2="135.5" y2="431.8" stroke="#262626" stroke-width="0.9" stroke-linecap="butt"/>
<text x="135.5" y="438.4" font-size="5.9" font-weight="normal" font-style="normal" text-anchor="middle" fill="#111" stroke="#111" stroke-width="0.25" >40</text>
<line x1="170.5" y1="429.6" x2="170.5" y2="431.8" stroke="#262626" stroke-width="0.9" stroke-linecap="butt"/>
<text x="170.5" y="438.4" font-size="5.9" font-weight="normal" font-style="normal" text-anchor="middle" fill="#111" stroke="#111" stroke-width="0.25" >60</text>
<line x1="206.5" y1="429.6" x2="206.5" y2="431.8" stroke="#262626" stroke-width="0.9" stroke-linecap="butt"/>
<text x="206.5" y="438.4" font-size="5.9" font-weight="normal" font-style="normal" text-anchor="middle" fill="#111" stroke="#111" stroke-width="0.25" >80</text>
<text x="0" y="0" font-size="6.83" font-weight="bold" text-anchor="middle" fill="#111" stroke="#111" stroke-width="0.16" transform="translate(47.06,372) rotate(-90)">Percent survival</text>
<text x="100.5" y="448.6" font-size="6.74" font-weight="bold" font-style="normal" text-anchor="start" fill="#111" stroke="#111" stroke-width="0.16" >Days after tumor challenge</text>
<polyline points="63.5,315.5 207.5,315.5" fill="none" stroke="#262626" stroke-width="0.65"/>
<rect x="205.77" y="313.78" width="3.04" height="3.04" fill="#111"/>
<polyline points="104.5,315.5 104.5,315.5 104.5,361.5 110.5,361.5 110.5,429.5" fill="none" stroke="#262626" stroke-width="1.15" stroke-dasharray="2.2,1.3"/>
<path d="M104.5,359.75 L106.25,361.5 L104.5,363.25 L102.75,361.5 Z" fill="#fff" stroke="#111" stroke-width="1.1"/>
<path d="M110.5,427.75 L112.25,429.5 L110.5,431.25 L108.75,429.5 Z" fill="#fff" stroke="#111" stroke-width="1.1"/>
<polyline points="101.5,315.5 101.5,315.5 101.5,338.5 104.5,338.5 104.5,361.5 110.5,361.5 110.5,429.5" fill="none" stroke="#262626" stroke-width="1.15" stroke-dasharray="2.2,1.3"/>
<path d="M99.45,336.96 L103.55,336.96 L101.5,340.45 Z" fill="#111"/>
<path d="M102.45,359.96 L106.55,359.96 L104.5,363.45 Z" fill="#111"/>
<path d="M108.45,427.96 L112.55,427.96 L110.5,431.45 Z" fill="#111"/>
<polyline points="99.5,315.5 99.5,315.5 99.5,338.5 102.5,338.5 102.5,361.5 104.5,361.5 104.5,395.5 110.5,395.5 110.5,406.5 111.5,406.5 111.5,418.5 115.5,418.5 115.5,429.5" fill="none" stroke="#262626" stroke-width="1.15"/>
<circle cx="99.5" cy="338.5" r="1.33" fill="#fff" stroke="#111" stroke-width="1.0"/>
<circle cx="102.5" cy="361.5" r="1.33" fill="#fff" stroke="#111" stroke-width="1.0"/>
<circle cx="104.5" cy="395.5" r="1.33" fill="#fff" stroke="#111" stroke-width="1.0"/>
<circle cx="110.5" cy="406.5" r="1.33" fill="#fff" stroke="#111" stroke-width="1.0"/>
<circle cx="111.5" cy="418.5" r="1.33" fill="#fff" stroke="#111" stroke-width="1.0"/>
<circle cx="115.5" cy="429.5" r="1.33" fill="#fff" stroke="#111" stroke-width="1.0"/>
<path d="M104.66,393.56 L106.41,395.31 L104.66,397.06 L102.9,395.31 Z" fill="#fff" stroke="#111" stroke-width="1.1"/>
<path d="M111.8,416.42 L113.55,418.17 L111.8,419.93 L110.04,418.17 Z" fill="#fff" stroke="#111" stroke-width="1.1"/>
<polyline points="115.5,315.5 115.5,315.5 115.5,327.5 117.5,327.5 117.5,340.5 120.5,340.5 120.5,353.5 149.5,353.5 149.5,366.5 207.5,366.5" fill="none" stroke="#262626" stroke-width="0.9"/>
<path d="M115.5,325.59 L117.41,327.5 L115.5,329.41 L113.59,327.5 Z" fill="#111"/>
<path d="M117.5,338.59 L119.41,340.5 L117.5,342.41 L115.59,340.5 Z" fill="#111"/>
<path d="M120.5,351.59 L122.41,353.5 L120.5,355.41 L118.59,353.5 Z" fill="#111"/>
<path d="M149.5,364.59 L151.41,366.5 L149.5,368.41 L147.59,366.5 Z" fill="#111"/>
<path d="M207.5,364.59 L209.41,366.5 L207.5,368.41 L205.59,366.5 Z" fill="#111"/>
<text x="189.4" y="359.3" font-size="8.6" font-weight="bold" font-style="normal" text-anchor="start" fill="#111" stroke="#111" stroke-width="0.16" >*</text>
<text x="0" y="0" font-size="8.6" fill="#111" stroke="#111" stroke-width="0.16" transform="translate(195.8,359.3) scale(0.86,1)"><tspan font-weight="bold" font-style="italic">P</tspan><tspan font-weight="bold"> &lt; .002</tspan></text>
<line x1="121.3" y1="388.9" x2="133.6" y2="388.9" stroke="#262626" stroke-width="0.9" stroke-linecap="butt" stroke-dasharray="2.2,1.3"/>
<path d="M125.4,387.36 L129.5,387.36 L127.45,390.85 Z" fill="#111"/>
<text x="135.7" y="391.04" font-size="5.95" font-weight="bold" font-style="normal" text-anchor="start" fill="#111" stroke="#111" stroke-width="0.16" >Syngeneic + DLI</text>
<line x1="121.3" y1="396.9" x2="133.6" y2="396.9" stroke="#262626" stroke-width="0.9" stroke-linecap="butt"/>
<circle cx="127.45" cy="396.9" r="1.33" fill="#fff" stroke="#111" stroke-width="1.0"/>
<text x="135.7" y="399.04" font-size="5.95" font-weight="bold" font-style="normal" text-anchor="start" fill="#111" stroke="#111" stroke-width="0.16" >Syngeneic + DLI + imiquimod</text>
<line x1="121.3" y1="405.8" x2="133.6" y2="405.8" stroke="#262626" stroke-width="0.9" stroke-linecap="butt"/>
<path d="M127.45,403.89 L129.36,405.8 L127.45,407.71 L125.54,405.8 Z" fill="#111"/>
<text x="135.7" y="407.94" font-size="5.95" font-weight="bold" font-style="normal" text-anchor="start" fill="#111" stroke="#111" stroke-width="0.16" >Full + DLI + imiquimod</text>
<line x1="121.3" y1="414.5" x2="133.6" y2="414.5" stroke="#262626" stroke-width="0.9" stroke-linecap="butt"/>
<rect x="125.93" y="412.98" width="3.04" height="3.04" fill="#111"/>
<text x="135.7" y="416.64" font-size="5.95" font-weight="bold" font-style="normal" text-anchor="start" fill="#111" stroke="#111" stroke-width="0.16" >Full + DLI (no Tm)</text>
<line x1="121.3" y1="423.4" x2="133.6" y2="423.4" stroke="#262626" stroke-width="0.9" stroke-linecap="butt" stroke-dasharray="2.2,1.3"/>
<path d="M127.45,421.64 L129.2,423.4 L127.45,425.15 L125.69,423.4 Z" fill="#fff" stroke="#111" stroke-width="1.1"/>
<text x="135.7" y="425.54" font-size="5.95" font-weight="bold" font-style="normal" text-anchor="start" fill="#111" stroke="#111" stroke-width="0.16" >Tm control</text>
<text x="260" y="245.2" font-size="16" font-weight="bold" font-style="normal" text-anchor="start" fill="#111" stroke="#111" stroke-width="0.16" >D</text>
<text x="284" y="266" font-size="12.5" font-weight="bold" font-style="normal" text-anchor="start" fill="#111" stroke="#111" stroke-width="0.16" >i</text>
<text x="282.4" y="309.6" font-size="12.5" font-weight="bold" font-style="normal" text-anchor="start" fill="#111" stroke="#111" stroke-width="0.16" >ii</text>
<line x1="311" y1="270.6" x2="311" y2="277.4" stroke="#262626" stroke-width="1.15" stroke-linecap="butt"/>
<line x1="314.95" y1="270.6" x2="314.95" y2="272.6" stroke="#262626" stroke-width="0.85" stroke-linecap="butt"/>
<line x1="318.9" y1="270.6" x2="318.9" y2="272.6" stroke="#262626" stroke-width="0.85" stroke-linecap="butt"/>
<line x1="322.85" y1="270.6" x2="322.85" y2="272.6" stroke="#262626" stroke-width="0.85" stroke-linecap="butt"/>
<line x1="326.8" y1="270.6" x2="326.8" y2="272.6" stroke="#262626" stroke-width="0.85" stroke-linecap="butt"/>
<line x1="330.75" y1="270.6" x2="330.75" y2="275.2" stroke="#262626" stroke-width="1" stroke-linecap="butt"/>
<line x1="334.7" y1="270.6" x2="334.7" y2="272.6" stroke="#262626" stroke-width="0.85" stroke-linecap="butt"/>
<line x1="338.65" y1="270.6" x2="338.65" y2="272.6" stroke="#262626" stroke-width="0.85" stroke-linecap="butt"/>
<line x1="342.6" y1="270.6" x2="342.6" y2="272.6" stroke="#262626" stroke-width="0.85" stroke-linecap="butt"/>
<line x1="346.55" y1="270.6" x2="346.55" y2="272.6" stroke="#262626" stroke-width="0.85" stroke-linecap="butt"/>
<line x1="350.5" y1="270.6" x2="350.5" y2="277.4" stroke="#262626" stroke-width="1.15" stroke-linecap="butt"/>
<line x1="354.45" y1="270.6" x2="354.45" y2="272.6" stroke="#262626" stroke-width="0.85" stroke-linecap="butt"/>
<line x1="311" y1="270.6" x2="358" y2="270.6" stroke="#262626" stroke-width="1.25" stroke-linecap="butt"/>
<line x1="365.8" y1="270.6" x2="365.8" y2="272.6" stroke="#262626" stroke-width="0.85" stroke-linecap="butt"/>
<line x1="369.9" y1="270.6" x2="369.9" y2="275.2" stroke="#262626" stroke-width="1" stroke-linecap="butt"/>
<line x1="374" y1="270.6" x2="374" y2="272.6" stroke="#262626" stroke-width="0.85" stroke-linecap="butt"/>
<line x1="378.1" y1="270.6" x2="378.1" y2="272.6" stroke="#262626" stroke-width="0.85" stroke-linecap="butt"/>
<line x1="382.2" y1="270.6" x2="382.2" y2="272.6" stroke="#262626" stroke-width="0.85" stroke-linecap="butt"/>
<line x1="386.3" y1="270.6" x2="386.3" y2="272.6" stroke="#262626" stroke-width="0.85" stroke-linecap="butt"/>
<line x1="390.4" y1="270.6" x2="390.4" y2="277.4" stroke="#262626" stroke-width="1.15" stroke-linecap="butt"/>
<line x1="394.48" y1="270.6" x2="394.48" y2="272.6" stroke="#262626" stroke-width="0.85" stroke-linecap="butt"/>
<line x1="398.56" y1="270.6" x2="398.56" y2="272.6" stroke="#262626" stroke-width="0.85" stroke-linecap="butt"/>
<line x1="402.64" y1="270.6" x2="402.64" y2="272.6" stroke="#262626" stroke-width="0.85" stroke-linecap="butt"/>
<line x1="406.72" y1="270.6" x2="406.72" y2="272.6" stroke="#262626" stroke-width="0.85" stroke-linecap="butt"/>
<line x1="410.8" y1="270.6" x2="410.8" y2="275.2" stroke="#262626" stroke-width="1" stroke-linecap="butt"/>
<line x1="414.88" y1="270.6" x2="414.88" y2="272.6" stroke="#262626" stroke-width="0.85" stroke-linecap="butt"/>
<line x1="418.96" y1="270.6" x2="418.96" y2="272.6" stroke="#262626" stroke-width="0.85" stroke-linecap="butt"/>
<line x1="423.04" y1="270.6" x2="423.04" y2="272.6" stroke="#262626" stroke-width="0.85" stroke-linecap="butt"/>
<line x1="427.12" y1="270.6" x2="427.12" y2="272.6" stroke="#262626" stroke-width="0.85" stroke-linecap="butt"/>
<line x1="431.2" y1="270.6" x2="431.2" y2="277.4" stroke="#262626" stroke-width="1.15" stroke-linecap="butt"/>
<line x1="435.31" y1="270.6" x2="435.31" y2="272.6" stroke="#262626" stroke-width="0.85" stroke-linecap="butt"/>
<line x1="439.42" y1="270.6" x2="439.42" y2="272.6" stroke="#262626" stroke-width="0.85" stroke-linecap="butt"/>
<line x1="443.53" y1="270.6" x2="443.53" y2="272.6" stroke="#262626" stroke-width="0.85" stroke-linecap="butt"/>
<line x1="447.64" y1="270.6" x2="447.64" y2="272.6" stroke="#262626" stroke-width="0.85" stroke-linecap="butt"/>
<line x1="451.75" y1="270.6" x2="451.75" y2="275.2" stroke="#262626" stroke-width="1" stroke-linecap="butt"/>
<line x1="455.86" y1="270.6" x2="455.86" y2="272.6" stroke="#262626" stroke-width="0.85" stroke-linecap="butt"/>
<line x1="459.97" y1="270.6" x2="459.97" y2="272.6" stroke="#262626" stroke-width="0.85" stroke-linecap="butt"/>
<line x1="464.08" y1="270.6" x2="464.08" y2="272.6" stroke="#262626" stroke-width="0.85" stroke-linecap="butt"/>
<line x1="468.19" y1="270.6" x2="468.19" y2="272.6" stroke="#262626" stroke-width="0.85" stroke-linecap="butt"/>
<line x1="472.3" y1="270.6" x2="472.3" y2="277.4" stroke="#262626" stroke-width="1.15" stroke-linecap="butt"/>
<line x1="476.41" y1="270.6" x2="476.41" y2="272.6" stroke="#262626" stroke-width="0.85" stroke-linecap="butt"/>
<line x1="480.52" y1="270.6" x2="480.52" y2="272.6" stroke="#262626" stroke-width="0.85" stroke-linecap="butt"/>
<line x1="484.63" y1="270.6" x2="484.63" y2="272.6" stroke="#262626" stroke-width="0.85" stroke-linecap="butt"/>
<line x1="488.74" y1="270.6" x2="488.74" y2="272.6" stroke="#262626" stroke-width="0.85" stroke-linecap="butt"/>
<line x1="362" y1="270.6" x2="362" y2="270.6" stroke="#262626" stroke-width="1.25" stroke-linecap="butt"/>
<rect x="356.2" y="266" width="6.6" height="8" fill="#fff"/>
<line x1="354.9" y1="274" x2="359.4" y2="266.8" stroke="#262626" stroke-width="1" stroke-linecap="butt"/>
<line x1="359" y1="274" x2="363.5" y2="266.8" stroke="#262626" stroke-width="1" stroke-linecap="butt"/>
<line x1="362" y1="270.6" x2="493" y2="270.6" stroke="#262626" stroke-width="1.25" stroke-linecap="butt"/>
<line x1="311" y1="259.4" x2="311" y2="267.3" stroke="#262626" stroke-width="1.35" stroke-linecap="butt"/>
<path d="M309.1,266.8 L312.9,266.8 L311,270.4 Z" fill="#111"/>
<line x1="311" y1="270.6" x2="311" y2="277.4" stroke="#262626" stroke-width="1.1" stroke-linecap="butt"/>
<text x="313" y="257.4" font-size="5.5" font-weight="bold" font-style="normal" text-anchor="middle" fill="#111" stroke="#111" stroke-width="0.16" >BMT</text>
<polyline points="394.48,270 394.48,260.6 406.72,260.6 406.72,270" fill="none" stroke="#262626" stroke-width="1"/>
<line x1="394.48" y1="262" x2="394.48" y2="267.3" stroke="#262626" stroke-width="1.35" stroke-linecap="butt"/>
<path d="M392.58,266.8 L396.38,266.8 L394.48,270.4 Z" fill="#111"/>
<line x1="406.72" y1="262" x2="406.72" y2="267.3" stroke="#262626" stroke-width="1.35" stroke-linecap="butt"/>
<path d="M404.82,266.8 L408.62,266.8 L406.72,270.4 Z" fill="#111"/>
<text x="400.3" y="255.5" font-size="5.6" font-weight="bold" font-style="normal" text-anchor="middle" fill="#111" stroke="#111" stroke-width="0.16" >&#945;CD25</text>
<line x1="423.04" y1="254.6" x2="423.04" y2="267.3" stroke="#262626" stroke-width="1.35" stroke-linecap="butt"/>
<path d="M421.14,266.8 L424.94,266.8 L423.04,270.4 Z" fill="#111"/>
<text x="423" y="252.3" font-size="5.5" font-weight="bold" font-style="normal" text-anchor="middle" fill="#111" stroke="#111" stroke-width="0.16" >DLI</text>
<line x1="423.34" y1="260.4" x2="456.6" y2="260.4" stroke="#262626" stroke-width="1" stroke-linecap="butt"/>
<line x1="435.8" y1="260.4" x2="435.8" y2="267.3" stroke="#262626" stroke-width="1.35" stroke-linecap="butt"/>
<path d="M433.9,266.8 L437.7,266.8 L435.8,270.4 Z" fill="#111"/>
<line x1="456.6" y1="260.4" x2="456.6" y2="282.5" stroke="#262626" stroke-width="1.2" stroke-linecap="butt"/>
<path d="M454.9,267 L458.3,267 L456.6,270.4 Z" fill="#111"/>
<path d="M454.9,274.4 L458.3,274.4 L456.6,270.9 Z" fill="#111"/>
<text x="435" y="255" font-size="5.3" font-weight="bold" font-style="normal" text-anchor="start" fill="#111" stroke="#111" stroke-width="0.16" >CpG</text>
<polyline points="410.8,270.6 410.8,279.6 422.7,279.6 422.7,270.6" fill="none" stroke="#262626" stroke-width="1"/>
<line x1="410.8" y1="279.6" x2="410.8" y2="273.1" stroke="#262626" stroke-width="1.05" stroke-linecap="butt"/>
<path d="M409.45,273.6 L412.15,273.6 L410.8,271 Z" fill="#111"/>
<line x1="414.8" y1="279.6" x2="414.8" y2="273.1" stroke="#262626" stroke-width="1.05" stroke-linecap="butt"/>
<path d="M413.45,273.6 L416.15,273.6 L414.8,271 Z" fill="#111"/>
<line x1="418.8" y1="279.6" x2="418.8" y2="273.1" stroke="#262626" stroke-width="1.05" stroke-linecap="butt"/>
<path d="M417.45,273.6 L420.15,273.6 L418.8,271 Z" fill="#111"/>
<line x1="422.7" y1="279.6" x2="422.7" y2="273.1" stroke="#262626" stroke-width="1.05" stroke-linecap="butt"/>
<path d="M421.35,273.6 L424.05,273.6 L422.7,271 Z" fill="#111"/>
<text x="403.5" y="288.5" font-size="5.6" font-weight="bold" font-style="normal" text-anchor="start" fill="#111" stroke="#111" stroke-width="0.16" >Imiquimod</text>
<text x="449.8" y="289" font-size="5.57" font-weight="bold" font-style="normal" text-anchor="start" fill="#111" stroke="#111" stroke-width="0.16" >Tumor challenge</text>
<text x="311.2" y="300.5" font-size="5.8" font-weight="bold" font-style="normal" text-anchor="middle" fill="#111" stroke="#111" stroke-width="0.16" >0</text>
<text x="350.8" y="300.5" font-size="5.8" font-weight="bold" font-style="normal" text-anchor="middle" fill="#111" stroke="#111" stroke-width="0.16" >10</text>
<text x="392.2" y="300.5" font-size="5.8" font-weight="bold" font-style="normal" text-anchor="middle" fill="#111" stroke="#111" stroke-width="0.16" >50</text>
<text x="431.6" y="300.5" font-size="5.8" font-weight="bold" font-style="normal" text-anchor="middle" fill="#111" stroke="#111" stroke-width="0.16" >60</text>
<text x="472.6" y="300.5" font-size="5.8" font-weight="bold" font-style="normal" text-anchor="middle" fill="#111" stroke="#111" stroke-width="0.16" >70</text>
<line x1="310.4" y1="318.8" x2="310.4" y2="429.9" stroke="#262626" stroke-width="1.4" stroke-linecap="butt"/>
<line x1="308.2" y1="429.5" x2="310.4" y2="429.5" stroke="#262626" stroke-width="0.9" stroke-linecap="butt"/>
<text x="307" y="431.59" font-size="5.8" font-weight="normal" font-style="normal" text-anchor="end" fill="#111" stroke="#111" stroke-width="0.25" >0</text>
<line x1="308.2" y1="407.5" x2="310.4" y2="407.5" stroke="#262626" stroke-width="0.9" stroke-linecap="butt"/>
<text x="307" y="409.59" font-size="5.8" font-weight="normal" font-style="normal" text-anchor="end" fill="#111" stroke="#111" stroke-width="0.25" >20</text>
<line x1="308.2" y1="385.5" x2="310.4" y2="385.5" stroke="#262626" stroke-width="0.9" stroke-linecap="butt"/>
<text x="307" y="387.59" font-size="5.8" font-weight="normal" font-style="normal" text-anchor="end" fill="#111" stroke="#111" stroke-width="0.25" >40</text>
<line x1="308.2" y1="363.5" x2="310.4" y2="363.5" stroke="#262626" stroke-width="0.9" stroke-linecap="butt"/>
<text x="307" y="365.59" font-size="5.8" font-weight="normal" font-style="normal" text-anchor="end" fill="#111" stroke="#111" stroke-width="0.25" >60</text>
<line x1="308.2" y1="341.5" x2="310.4" y2="341.5" stroke="#262626" stroke-width="0.9" stroke-linecap="butt"/>
<text x="307" y="343.59" font-size="5.8" font-weight="normal" font-style="normal" text-anchor="end" fill="#111" stroke="#111" stroke-width="0.25" >80</text>
<line x1="308.2" y1="319.5" x2="310.4" y2="319.5" stroke="#262626" stroke-width="0.9" stroke-linecap="butt"/>
<text x="307" y="321.59" font-size="5.8" font-weight="normal" font-style="normal" text-anchor="end" fill="#111" stroke="#111" stroke-width="0.25" >100</text>
<line x1="309.8" y1="429.3" x2="476.12" y2="429.3" stroke="#262626" stroke-width="1.4" stroke-linecap="butt"/>
<line x1="310.5" y1="429.3" x2="310.5" y2="431.5" stroke="#262626" stroke-width="0.9" stroke-linecap="butt"/>
<text x="310.5" y="438.8" font-size="6.2" font-weight="normal" font-style="normal" text-anchor="middle" fill="#111" stroke="#111" stroke-width="0.25" >0</text>
<line x1="338.5" y1="429.3" x2="338.5" y2="431.5" stroke="#262626" stroke-width="0.9" stroke-linecap="butt"/>
<text x="338.5" y="438.8" font-size="6.2" font-weight="normal" font-style="normal" text-anchor="middle" fill="#111" stroke="#111" stroke-width="0.25" >10</text>
<line x1="365.5" y1="429.3" x2="365.5" y2="431.5" stroke="#262626" stroke-width="0.9" stroke-linecap="butt"/>
<text x="365.5" y="438.8" font-size="6.2" font-weight="normal" font-style="normal" text-anchor="middle" fill="#111" stroke="#111" stroke-width="0.25" >20</text>
<line x1="393.5" y1="429.3" x2="393.5" y2="431.5" stroke="#262626" stroke-width="0.9" stroke-linecap="butt"/>
<text x="393.5" y="438.8" font-size="6.2" font-weight="normal" font-style="normal" text-anchor="middle" fill="#111" stroke="#111" stroke-width="0.25" >30</text>
<line x1="420.5" y1="429.3" x2="420.5" y2="431.5" stroke="#262626" stroke-width="0.9" stroke-linecap="butt"/>
<text x="420.5" y="438.8" font-size="6.2" font-weight="normal" font-style="normal" text-anchor="middle" fill="#111" stroke="#111" stroke-width="0.25" >40</text>
<line x1="448.5" y1="429.3" x2="448.5" y2="431.5" stroke="#262626" stroke-width="0.9" stroke-linecap="butt"/>
<text x="448.5" y="438.8" font-size="6.2" font-weight="normal" font-style="normal" text-anchor="middle" fill="#111" stroke="#111" stroke-width="0.25" >50</text>
<line x1="476.5" y1="429.3" x2="476.5" y2="431.5" stroke="#262626" stroke-width="0.9" stroke-linecap="butt"/>
<text x="476.5" y="438.8" font-size="6.2" font-weight="normal" font-style="normal" text-anchor="middle" fill="#111" stroke="#111" stroke-width="0.25" >60</text>
<text x="0" y="0" font-size="6.5" font-weight="bold" text-anchor="middle" fill="#111" stroke="#111" stroke-width="0.16" transform="translate(297.74,374.2) rotate(-90)">Percent survival</text>
<text x="352.2" y="447.7" font-size="6.5" font-weight="bold" font-style="normal" text-anchor="start" fill="#111" stroke="#111" stroke-width="0.16" >Days after tumor challenge</text>
<polyline points="310.5,319.5 465.5,319.5" fill="none" stroke="#262626" stroke-width="1.15"/>
<rect x="463.4" y="317.63" width="3.35" height="3.35" fill="#111"/>
<polyline points="373.5,319.5 373.5,319.5 373.5,350.5 382.5,350.5 382.5,397.5 396.5,397.5 396.5,429.5" fill="none" stroke="#262626" stroke-width="1.15"/>
<circle cx="373.5" cy="350.5" r="1.49" fill="#111"/>
<circle cx="382.5" cy="397.5" r="1.49" fill="#111"/>
<circle cx="396.5" cy="429.5" r="1.49" fill="#111"/>
<polyline points="373.5,319.5 373.5,319.5 373.5,330.5 382.5,330.5 382.5,352.5 396.5,352.5 396.5,374.5 401.5,374.5 401.5,385.5 407.5,385.5 407.5,396.5 415.5,396.5 415.5,407.5 465.5,407.5" fill="none" stroke="#262626" stroke-width="1.15" stroke-dasharray="2.6,1.0,1.0,1.0"/>
<path d="M373.5,328.59 L375.41,330.5 L373.5,332.41 L371.59,330.5 Z" fill="#111"/>
<path d="M382.5,350.59 L384.41,352.5 L382.5,354.41 L380.59,352.5 Z" fill="#111"/>
<path d="M396.5,372.59 L398.41,374.5 L396.5,376.41 L394.59,374.5 Z" fill="#111"/>
<path d="M401.5,383.59 L403.41,385.5 L401.5,387.41 L399.59,385.5 Z" fill="#111"/>
<path d="M407.5,394.59 L409.41,396.5 L407.5,398.41 L405.59,396.5 Z" fill="#111"/>
<path d="M415.5,405.59 L417.41,407.5 L415.5,409.41 L413.59,407.5 Z" fill="#111"/>
<path d="M465.5,405.59 L467.41,407.5 L465.5,409.41 L463.59,407.5 Z" fill="#111"/>
<polyline points="393.5,319.5 393.5,319.5 393.5,363.5 396.5,363.5 396.5,374.5 401.5,374.5 401.5,402.5 404.5,402.5 404.5,407.5 437.5,407.5 437.5,418.5 465.5,418.5" fill="none" stroke="#262626" stroke-width="1.15" stroke-dasharray="2.6,1.0,1.0,1.0"/>
<path d="M391.55,364.96 L395.45,364.96 L393.5,361.65 Z" fill="#111"/>
<path d="M394.55,375.96 L398.45,375.96 L396.5,372.65 Z" fill="#111"/>
<path d="M399.55,403.96 L403.45,403.96 L401.5,400.65 Z" fill="#111"/>
<path d="M402.55,408.96 L406.45,408.96 L404.5,405.65 Z" fill="#111"/>
<path d="M435.55,419.96 L439.45,419.96 L437.5,416.65 Z" fill="#111"/>
<path d="M463.55,419.96 L467.45,419.96 L465.5,416.65 Z" fill="#111"/>
<polyline points="379.5,319.5 379.5,319.5 379.5,325.5 384.5,325.5 384.5,331.5 387.5,331.5 387.5,345.5 393.5,345.5 393.5,377.5 398.5,377.5 398.5,390.5 404.5,390.5 404.5,408.5 412.5,408.5 412.5,416.5 418.5,416.5 418.5,422.5 465.5,422.5" fill="none" stroke="#262626" stroke-width="1.15" stroke-dasharray="1.1,1.0"/>
<path d="M378.04,324.41 L380.96,324.41 L379.5,326.89 Z" fill="#fff" stroke="#111" stroke-width="1.1"/>
<path d="M383.04,330.41 L385.96,330.41 L384.5,332.89 Z" fill="#fff" stroke="#111" stroke-width="1.1"/>
<path d="M386.04,344.41 L388.96,344.41 L387.5,346.89 Z" fill="#fff" stroke="#111" stroke-width="1.1"/>
<path d="M392.04,376.41 L394.96,376.41 L393.5,378.89 Z" fill="#fff" stroke="#111" stroke-width="1.1"/>
<path d="M397.04,389.41 L399.96,389.41 L398.5,391.89 Z" fill="#fff" stroke="#111" stroke-width="1.1"/>
<path d="M403.04,407.41 L405.96,407.41 L404.5,409.89 Z" fill="#fff" stroke="#111" stroke-width="1.1"/>
<path d="M411.04,415.41 L413.96,415.41 L412.5,417.89 Z" fill="#fff" stroke="#111" stroke-width="1.1"/>
<path d="M417.04,421.41 L419.96,421.41 L418.5,423.89 Z" fill="#fff" stroke="#111" stroke-width="1.1"/>
<path d="M464.04,421.41 L466.96,421.41 L465.5,423.89 Z" fill="#fff" stroke="#111" stroke-width="1.1"/>
<circle cx="401.55" cy="403.23" r="1.13" fill="#fff" stroke="#111" stroke-width="1.0"/>
<polyline points="479.6,319.1 483.9,319.1 483.9,422 477.6,422" fill="none" stroke="#262626" stroke-width="1.1"/>
<line x1="477.6" y1="407.5" x2="483.9" y2="407.5" stroke="#262626" stroke-width="1" stroke-linecap="butt"/>
<line x1="477.6" y1="418.4" x2="483.9" y2="418.4" stroke="#262626" stroke-width="1" stroke-linecap="butt"/>
<text x="0" y="0" font-size="8.8" fill="#111" stroke="#111" stroke-width="0.16" transform="translate(493,375.07) scale(0.915,1)"><tspan font-weight="bold" font-style="italic">P</tspan><tspan font-weight="bold"> &lt; .01</tspan></text>
<line x1="407" y1="325.9" x2="418.7" y2="325.9" stroke="#262626" stroke-width="1.1" stroke-linecap="butt"/>
<circle cx="412.85" cy="325.9" r="1.46" fill="#fff" stroke="#111" stroke-width="1.0"/>
<text x="420.2" y="327.99" font-size="5.8" font-weight="bold" font-style="normal" text-anchor="start" fill="#111" stroke="#111" stroke-width="0.16" >Full + DLI +</text>
<text x="420.2" y="334.89" font-size="5.8" font-weight="bold" font-style="normal" text-anchor="start" fill="#111" stroke="#111" stroke-width="0.16" >CpG + imiquimod</text>
<line x1="407" y1="340.5" x2="418.7" y2="340.5" stroke="#262626" stroke-width="1.1" stroke-linecap="butt" stroke-dasharray="2.6,1.0,1.0,1.0"/>
<path d="M412.85,338.49 L414.86,340.5 L412.85,342.51 L410.84,340.5 Z" fill="#111"/>
<text x="420.2" y="342.59" font-size="5.8" font-weight="bold" font-style="normal" text-anchor="start" fill="#111" stroke="#111" stroke-width="0.16" >Full + DLI +</text>
<text x="420.2" y="349.79" font-size="5.8" font-weight="bold" font-style="normal" text-anchor="start" fill="#111" stroke="#111" stroke-width="0.16" >imiquimod</text>
<line x1="407" y1="355.5" x2="418.7" y2="355.5" stroke="#262626" stroke-width="1.1" stroke-linecap="butt" stroke-dasharray="2.6,1.0,1.0,1.0"/>
<path d="M411,356.89 L414.7,356.89 L412.85,353.74 Z" fill="#111"/>
<text x="420.2" y="357.59" font-size="5.8" font-weight="bold" font-style="normal" text-anchor="start" fill="#111" stroke="#111" stroke-width="0.16" >Full + DLI + &#945;CD25</text>
<line x1="407" y1="362.8" x2="418.7" y2="362.8" stroke="#262626" stroke-width="1.1" stroke-linecap="butt" stroke-dasharray="1.1,1.0"/>
<path d="M411.39,361.71 L414.31,361.71 L412.85,364.19 Z" fill="#fff" stroke="#111" stroke-width="1.1"/>
<text x="420.2" y="364.89" font-size="5.8" font-weight="bold" font-style="normal" text-anchor="start" fill="#111" stroke="#111" stroke-width="0.16" >Full + DLI</text>
<line x1="407" y1="371" x2="418.7" y2="371" stroke="#262626" stroke-width="1.1" stroke-linecap="butt"/>
<path d="M411.18,369.33 L414.52,372.67 M414.52,369.33 L411.18,372.67 M412.85,369.33 L412.85,372.67" stroke="#111" stroke-width="0.8" fill="none"/>
<text x="420.2" y="373.09" font-size="5.8" font-weight="bold" font-style="normal" text-anchor="start" fill="#111" stroke="#111" stroke-width="0.16" >Full + DLI (no Tm)</text>
<line x1="407" y1="379.1" x2="418.7" y2="379.1" stroke="#262626" stroke-width="1.1" stroke-linecap="butt"/>
<circle cx="412.85" cy="379.1" r="1.49" fill="#111"/>
<text x="420.2" y="381.19" font-size="5.8" font-weight="bold" font-style="normal" text-anchor="start" fill="#111" stroke="#111" stroke-width="0.16" >Tm control</text>
</svg>
</body></html>
